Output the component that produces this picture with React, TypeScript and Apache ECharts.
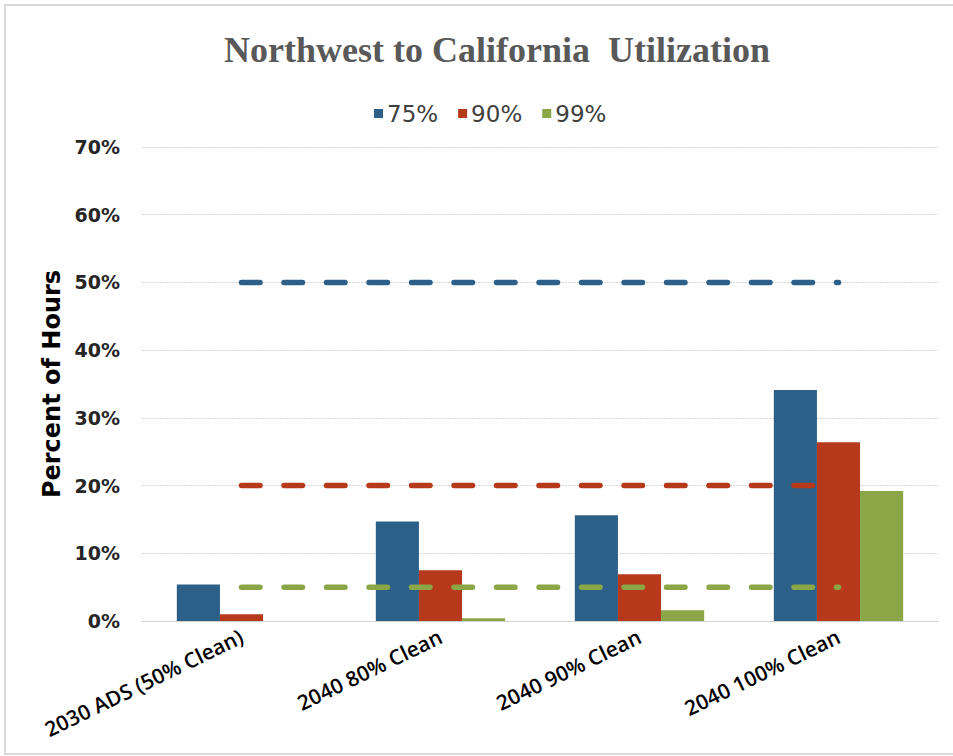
import React, { useEffect, useRef } from "react";
import * as echarts from "echarts";

const categories = ["2030 ADS (50% Clean)", "2040 80% Clean", "2040 90% Clean", "2040 100% Clean"];
const seriesNames = ["75%", "90%", "99%"];
const values75 = [5.4, 14.7, 15.6, 34.1];
const values90 = [1.0, 7.5, 6.9, 26.4];
const values99 = [0, 0.4, 1.6, 19.2];
const target75 = [50, 50, 50, 50];
const target90 = [20, 20, 20, 20];
const target99 = [5, 5, 5, 5];
const colors = ["#2D6089", "#B5391A", "#8AA646"];

export default function App() {
  const ref = useRef<HTMLDivElement>(null);
  useEffect(() => {
    if (!ref.current) return;
    const chart = echarts.init(ref.current, null, { renderer: "svg" });
    const lineStyle = (c: string) => ({
      color: c,
      width: 5.5,
      type: [18.5, 24],
      cap: "round",
    });
    chart.setOption({
      animation: false,
      backgroundColor: "#ffffff",
      title: {
        text: "Northwest to California  Utilization",
        left: 492,
        textAlign: "center",
        top: 27,
        textStyle: {
          fontFamily: "Liberation Serif",
          fontSize: 36,
          fontWeight: "bold",
          color: "#595959",
        },
      },
      legend: {
        data: seriesNames,
        top: 97,
        left: 369,
        itemWidth: 9,
        itemHeight: 9,
        itemGap: 20,
        icon: "rect",
        textStyle: {
          fontFamily: "DejaVu Sans",
          fontSize: 23,
          color: "#404040",
          padding: [0, 0, 0, -1],
        },
      },
      graphic: [
        {
          type: "rect",
          shape: { x: 5, y: 5, width: 960, height: 749 },
          style: { fill: "none", stroke: "#d9d9d9", lineWidth: 2 },
          silent: true,
        },
      ],
      grid: { left: 142, right: 15, top: 147, bottom: 135 },
      xAxis: {
        type: "category",
        data: categories,
        axisLine: { show: true, lineStyle: { color: "#d0d0d0", width: 1 } },
        axisTick: { show: false },
        axisLabel: {
          rotate: 26,
          interval: 0,
          margin: 14,
          fontFamily: "Open Sans",
          fontSize: 21,
          fontWeight: 600,
          color: "#000000",
        },
      },
      yAxis: {
        type: "value",
        min: 0,
        max: 70,
        interval: 10,
        name: "Percent of Hours",
        nameLocation: "middle",
        nameGap: 71,
        nameTextStyle: {
          fontFamily: "DejaVu Sans",
          fontSize: 24,
          fontWeight: "bold",
          color: "#000000",
        },
        axisLine: { show: false },
        axisTick: { show: false },
        axisLabel: {
          formatter: "{value}%",
          margin: 22,
          fontFamily: "DejaVu Sans",
          fontSize: 19,
          fontWeight: "bold",
          color: "#262626",
        },
        splitLine: { lineStyle: { color: "#d6d6d6", width: 1, type: [2, 1] } },
      },
      series: [
        { name: "75%", type: "bar", data: values75, itemStyle: { color: colors[0] }, barGap: "0%", barCategoryGap: "35%" },
        { name: "90%", type: "bar", data: values90, itemStyle: { color: colors[1] }, barGap: "0%", barCategoryGap: "35%" },
        { name: "99%", type: "bar", data: values99, itemStyle: { color: colors[2] }, barGap: "0%", barCategoryGap: "35%" },
        { name: "t75", type: "line", data: target75, symbol: "none", z: 5, lineStyle: lineStyle(colors[0]) },
        { name: "t90", type: "line", data: target90, symbol: "none", z: 5, lineStyle: lineStyle(colors[1]) },
        { name: "t99", type: "line", data: target99, symbol: "none", z: 5, lineStyle: lineStyle(colors[2]) },
      ],
    });
    return () => chart.dispose();
  }, []);
  return (
    <div
      ref={ref}
      style={{ position: "absolute", left: 0, top: 0, width: 953, height: 756 }}
    />
  );
}
